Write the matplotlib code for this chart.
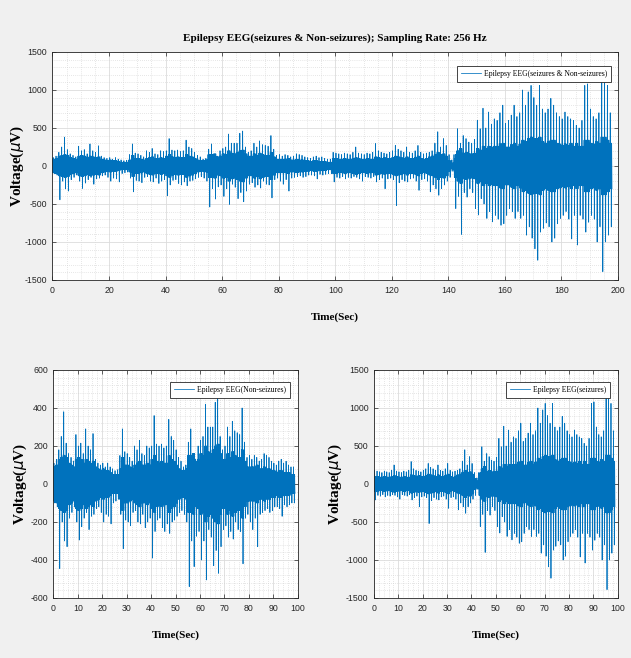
import numpy as np
import matplotlib.pyplot as plt
from matplotlib.ticker import MultipleLocator

plt.rcParams.update({
    'font.family': ['Liberation Sans Narrow', 'Liberation Sans', 'DejaVu Sans'],
    'axes.unicode_minus': False,
    'axes.linewidth': 0.6,
    'axes.edgecolor': '#262626',
})

SERIF = ['Liberation Serif', 'DejaVu Serif']
LINE_COLOR = '#0072BD'

# Per-second upper / lower extremes of each recording (uV), t = 0..98 s
nonseizure_hi = [110, 130, 180, 250, 380, 215, 160, 140, 120, 260,
                 200, 215, 160, 290, 200, 180, 265, 130, 110, 100,
                 110, 90, 110, 90, 80, 70, 75, 150, 290, 170,
                 160, 140, 120, 200, 180, 230, 160, 150, 200, 190,
                 200, 360, 210, 200, 210, 190, 200, 340, 250, 230,
                 180, 140, 120, 90, 100, 220, 290, 160, 130, 200,
                 230, 250, 420, 300, 300, 300, 430, 460, 250, 180,
                 200, 300, 250, 330, 280, 270, 260, 400, 220, 140,
                 150, 130, 150, 140, 120, 130, 160, 150, 140, 120,
                 110, 100, 120, 130, 110, 120, 100, 90, 90]
nonseizure_lo = [-100, -120, -445, -200, -300, -330, -180, -150, -120, -200,
                 -295, -225, -180, -150, -240, -170, -160, -130, -120, -150,
                 -200, -160, -170, -210, -100, -90, -80, -160, -340, -190,
                 -200, -220, -150, -140, -200, -210, -160, -230, -200, -180,
                 -390, -250, -190, -180, -230, -250, -210, -260, -200, -190,
                 -170, -150, -140, -160, -200, -540, -300, -435, -275, -250,
                 -400, -300, -505, -240, -280, -430, -350, -470, -330, -240,
                 -220, -280, -250, -290, -200, -240, -250, -420, -180, -160,
                 -200, -240, -180, -330, -160, -150, -140, -130, -150, -140,
                 -120, -120, -130, -170, -110, -120, -110, -100, -100]
seizure_hi = [180, 170, 160, 150, 170, 160, 150, 180, 250, 170,
              160, 150, 170, 160, 180, 295, 200, 180, 170, 160,
              180, 200, 270, 220, 200, 180, 250, 180, 170, 200,
              270, 180, 160, 170, 180, 200, 300, 450, 250, 360,
              270, 150, 80, 100, 490, 300, 400, 360, 315, 300,
              350, 600, 490, 760, 500, 710, 550, 620, 600, 700,
              800, 560, 600, 670, 800, 650, 700, 1000, 800, 975,
              1060, 900, 800, 1060, 750, 700, 750, 890, 800, 700,
              650, 620, 710, 650, 620, 600, 535, 500, 600, 1060,
              1080, 750, 650, 620, 700, 1150, 1190, 1060, 700]
seizure_lo = [-210, -150, -160, -140, -170, -150, -160, -140, -150, -170,
              -200, -140, -150, -160, -140, -210, -180, -160, -300, -170,
              -160, -180, -520, -220, -180, -200, -210, -170, -160, -200,
              -320, -180, -170, -200, -340, -250, -300, -385, -300, -250,
              -200, -150, -70, -560, -400, -900, -350, -410, -300, -350,
              -560, -645, -430, -500, -690, -600, -735, -650, -700, -780,
              -760, -650, -560, -600, -690, -600, -690, -650, -910, -800,
              -950, -1090, -1240, -870, -820, -750, -800, -1000, -950, -760,
              -690, -650, -600, -700, -960, -650, -1040, -650, -700, -870,
              -740, -650, -700, -1000, -800, -1390, -1000, -910, -800]
# Per-second background (core) amplitude of each recording (uV)
nonseizure_core = [90, 100, 130, 140, 150, 140, 110, 100, 90, 130,
                   140, 130, 110, 130, 120, 110, 120, 90, 80, 70,
                   80, 70, 70, 60, 50, 50, 50, 80, 140, 100,
                   100, 90, 80, 100, 110, 120, 100, 100, 110, 100,
                   130, 150, 120, 110, 120, 110, 110, 150, 130, 120,
                   100, 80, 70, 70, 80, 150, 150, 160, 120, 130,
                   160, 150, 200, 170, 160, 180, 200, 210, 160, 130,
                   130, 160, 140, 170, 150, 140, 140, 180, 120, 90,
                   90, 90, 90, 100, 80, 80, 90, 80, 80, 70,
                   70, 60, 70, 70, 60, 60, 60, 50, 50]
seizure_core = [100, 100, 90, 90, 100, 90, 90, 100, 110, 100,
                90, 90, 100, 90, 90, 120, 110, 100, 110, 100,
                100, 110, 130, 120, 110, 100, 120, 100, 100, 110,
                130, 100, 90, 100, 120, 130, 150, 180, 150, 160,
                130, 70, 40, 150, 200, 230, 170, 180, 160, 160,
                170, 230, 210, 260, 230, 260, 250, 260, 260, 290,
                300, 250, 250, 280, 300, 260, 290, 340, 320, 360,
                380, 360, 360, 380, 320, 300, 320, 340, 340, 300,
                290, 270, 290, 270, 300, 260, 300, 260, 260, 340,
                340, 300, 290, 320, 300, 380, 380, 340, 300]


def trace(hi, lo, core):
    """Eight samples per second: dense core swings plus that second's extremes."""
    t, v = [], []
    for i, (h, l, c) in enumerate(zip(hi, lo, core)):
        for k, y in enumerate((c, -c, h, -c, c, l, c, -c)):
            t.append(i + k / 8)
            v.append(y)
    return np.array(t), np.array(v)


t_ns, v_ns = trace(nonseizure_hi, nonseizure_lo, nonseizure_core)
t_sz, v_sz = trace(seizure_hi, seizure_lo, seizure_core)
t_all = np.concatenate([t_ns, t_sz + len(nonseizure_hi)])
v_all = np.concatenate([v_ns, v_sz])


def style(ax, xmax, xmajor, xminor, ylim, ymajor, yminor, ylabel_x):
    ax.set_xlim(0, xmax)
    ax.set_ylim(*ylim)
    ax.xaxis.set_major_locator(MultipleLocator(xmajor))
    ax.xaxis.set_minor_locator(MultipleLocator(xminor))
    ax.yaxis.set_major_locator(MultipleLocator(ymajor))
    ax.yaxis.set_minor_locator(MultipleLocator(yminor))
    ax.set_axisbelow(True)
    ax.grid(which='major', color='#dcdcdc', linewidth=0.6)
    ax.grid(which='minor', color='#cfcfcf', linewidth=0.5, linestyle=(0, (1, 2)))
    ax.tick_params(which='major', direction='in', top=True, right=True,
                   length=3, width=0.5, colors='#262626', labelsize=6.3, pad=4)
    ax.tick_params(which='minor', length=0)
    ax.set_xlabel('Time(Sec)', family=SERIF, fontweight='bold', fontsize=8)
    ax.set_ylabel('Voltage($\\mu$V)', family=SERIF, fontweight='bold', fontsize=11)
    ax.xaxis.set_label_coords(0.5, -0.14)
    ax.yaxis.set_label_coords(ylabel_x, 0.5)


def legend(ax, label, anchor):
    leg = ax.legend([label], loc='upper right', bbox_to_anchor=anchor,
                    prop={'family': SERIF, 'size': 5.5}, fancybox=False,
                    edgecolor='#262626', framealpha=1, handlelength=2.6,
                    handletextpad=0.4, borderpad=0.5, borderaxespad=0)
    leg.get_frame().set_linewidth(0.6)


fig = plt.figure(figsize=(6.31, 6.58), dpi=100, facecolor='#f0f0f0')
ax_top = fig.add_axes([0.0832, 0.5745, 0.8962, 0.3465])
ax_ns = fig.add_axes([0.0845, 0.0912, 0.3873, 0.3465])
ax_sz = fig.add_axes([0.5927, 0.0912, 0.3862, 0.3465])

ax_top.plot(t_all, v_all, color=LINE_COLOR, linewidth=0.55)
style(ax_top, 200, 20, 5, (-1500, 1500), 500, 100, -0.047)
ax_top.set_title('Epilepsy EEG(seizures & Non-seizures); Sampling Rate: 256 Hz',
                 family=SERIF, fontweight='bold', fontsize=8, pad=8)
legend(ax_top, 'Epilepsy EEG(seizures & Non-seizures)', (0.987, 0.939))

ax_ns.plot(t_ns, v_ns, color=LINE_COLOR, linewidth=0.55)
style(ax_ns, 100, 10, 2, (-600, 600), 200, 40, -0.1)
legend(ax_ns, 'Epilepsy EEG(Non-seizures)', (0.968, 0.947))

ax_sz.plot(t_sz, v_sz, color=LINE_COLOR, linewidth=0.55)
style(ax_sz, 100, 10, 2, (-1500, 1500), 500, 100, -0.125)
legend(ax_sz, 'Epilepsy EEG(seizures)', (0.968, 0.947))

fig.savefig('out.png', dpi=100, facecolor=fig.get_facecolor())
